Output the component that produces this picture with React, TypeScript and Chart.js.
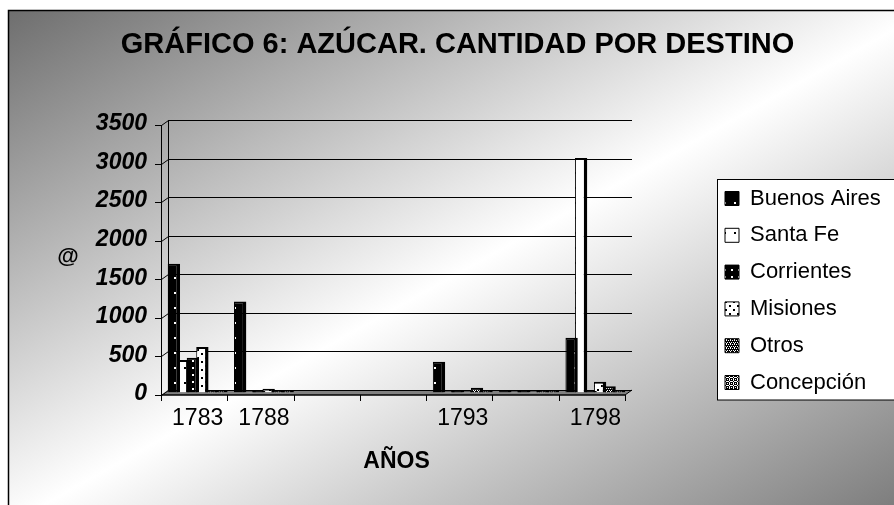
import { useEffect, useRef } from 'react';
import { Chart, registerables } from 'chart.js';

Chart.register(...registerables);

const TITLE = 'GRÁFICO 6: AZÚCAR. CANTIDAD POR DESTINO';
const X_TITLE = 'AÑOS';
const Y_TITLE = '@';
const CATEGORIES = ['1783', '1788', '', '', '1793', '', '1798'];
const SERIES_NAMES = ['Buenos Aires', 'Santa Fe', 'Corrientes', 'Misiones', 'Otros', 'Concepción'];
const BUENOS_AIRES = [1670, 1180, 0, 0, 400, 20, 710];
const SANTA_FE = [420, 20, 0, 0, 20, 20, 3040];
const CORRIENTES = [450, 20, 0, 0, 20, 20, 20];
const MISIONES = [590, 50, 0, 0, 20, 20, 140];
const OTROS = [20, 20, 0, 0, 60, 20, 80];
const CONCEPCION = [20, 20, 0, 0, 20, 20, 20];
const SERIES_VALUES = [BUENOS_AIRES, SANTA_FE, CORRIENTES, MISIONES, OTROS, CONCEPCION];
const Y_MIN = 0;
const Y_MAX = 3500;
const Y_STEP = 500;

const FONT = '"Liberation Sans", Arial, Helvetica, sans-serif';

function makePattern(w: number, h: number, bg: string, fg: string, dots: number[][]) {
  const c = document.createElement('canvas');
  c.width = w;
  c.height = h;
  const g = c.getContext('2d')!;
  g.fillStyle = bg;
  g.fillRect(0, 0, w, h);
  g.fillStyle = fg;
  for (const [x, y, s] of dots) g.fillRect(x, y, s, s);
  return g.createPattern(c, 'repeat')!;
}

function buildPatterns() {
  return [
    makePattern(10, 15, '#000', '#fff', [[4, 7, 2]]),
    makePattern(10, 15, '#fff', '#000', [[4, 7, 2]]),
    makePattern(7, 7, '#000', '#fff', [[3, 3, 2]]),
    makePattern(8, 8, '#fff', '#000', [[1, 1, 2], [5, 5, 2]]),
    makePattern(4, 4, '#000', '#fff', [[0, 0, 1], [2, 0, 1], [1, 2, 1], [3, 2, 1], [2, 3, 1]]),
    makePattern(4, 4, '#000', '#fff', [[1, 0, 1], [0, 1, 1], [2, 1, 1], [1, 2, 1], [3, 3, 1], [3, 1, 1], [1, 3, 1]]),
  ];
}

const DX = 3.5;
const DY = 2.5;

const decorPlugin = {
  id: 'decor',
  afterLayout(chart: any) {
    const lg = chart.legend;
    if (lg) {
      lg.left = 710.2;
      lg.right = 894;
      lg.width = 894 - 710.2;
      lg.top = 172.7;
      lg.bottom = 505;
      lg.height = 505 - 172.7;
    }
    const tb = chart.titleBlock;
    if (tb) {
      tb.left = 0;
      tb.right = 915;
      tb.width = 915;
    }
  },
  beforeDraw(chart: any) {
    const ctx = chart.ctx as CanvasRenderingContext2D;
    const W = chart.width;
    const H = chart.height;
    ctx.save();
    ctx.fillStyle = '#ffffff';
    ctx.fillRect(0, 0, W, H);
    ctx.save();
    ctx.translate(8, 10);
    ctx.scale(W - 8, H - 10);
    const g = ctx.createLinearGradient(0, 0, 1, 1);
    g.addColorStop(0, '#6e6e6e');
    g.addColorStop(0.52, '#ffffff');
    g.addColorStop(1, '#7e7e7e');
    ctx.fillStyle = g;
    ctx.fillRect(0, 0, 1, 1);
    ctx.restore();
    ctx.strokeStyle = '#000';
    ctx.lineWidth = 1.5;
    ctx.beginPath();
    ctx.moveTo(8.5, H);
    ctx.lineTo(8.5, 10.5);
    ctx.lineTo(W, 10.5);
    ctx.stroke();
    // legend box
    ctx.fillStyle = '#ffffff';
    ctx.fillRect(717.5, 179.5, W, 220.5);
    ctx.lineWidth = 1;
    ctx.strokeRect(717.5, 179.5, W, 220.5);
    // y-axis title (unrotated)
    ctx.fillStyle = '#000';
    ctx.font = `bold 22px ${FONT}`;
    ctx.textAlign = 'center';
    ctx.textBaseline = 'middle';
    ctx.fillText(Y_TITLE, 68, 257);
    ctx.restore();
  },
  beforeDatasetsDraw(chart: any) {
    const ctx = chart.ctx as CanvasRenderingContext2D;
    const a = chart.chartArea;
    const x = chart.scales.x;
    const y = chart.scales.y;
    const backL = a.left + DX;
    const backR = a.right + DX;
    const frontL = a.left - DX;
    const frontR = a.right - DX;
    const y0 = y.getPixelForValue(Y_MIN);
    const yTop = y.getPixelForValue(Y_MAX);
    const r = (v: number) => Math.round(v) + 0.5;
    const line = (x1: number, y1: number, x2: number, y2: number) => {
      ctx.beginPath();
      ctx.moveTo(x1, y1);
      ctx.lineTo(x2, y2);
      ctx.stroke();
    };
    ctx.save();
    // floor
    ctx.fillStyle = '#808080';
    ctx.beginPath();
    ctx.moveTo(frontL, y0 + DY);
    ctx.lineTo(frontR, y0 + DY);
    ctx.lineTo(backR, y0 - DY);
    ctx.lineTo(backL, y0 - DY);
    ctx.closePath();
    ctx.fill();
    ctx.strokeStyle = '#000';
    ctx.lineWidth = 1;
    // back wall gridlines + side wall + front ticks
    y.ticks.forEach((t: any) => {
      const py = y.getPixelForValue(t.value) - DY;
      if (t.value !== Y_MIN) line(r(backL), r(py), backR, r(py));
      const fy = py + 2 * DY;
      line(frontL - 6, r(fy), r(frontL), r(fy));
      line(r(frontL), r(fy), r(backL), r(py));
    });
    // back-left wall edge
    line(r(backL), yTop - DY, r(backL), y0 - DY);
    // front vertical axis
    line(r(frontL), yTop + DY, r(frontL), y0 + DY);
    // floor back edge
    line(backL, r(y0 - DY), backR, r(y0 - DY));
    // floor right diagonal
    line(frontR, y0 + DY, backR, y0 - DY);
    // floor front edge
    ctx.lineWidth = 1.5;
    line(frontL, y0 + DY, frontR, y0 + DY);
    // category ticks
    ctx.lineWidth = 1;
    const n = CATEGORIES.length;
    const slot = x.getPixelForValue(1) - x.getPixelForValue(0);
    const start = x.getPixelForValue(0) - slot / 2;
    for (let i = 0; i <= n; i++) {
      const bx = r(start + i * slot - DX);
      line(bx, y0 + DY, bx, y0 + DY + 6);
    }
    ctx.restore();
  },
};

export default function App() {
  const ref = useRef<HTMLCanvasElement>(null);

  useEffect(() => {
    const canvas = ref.current!;
    const patterns = buildPatterns();
    const chart = new Chart(canvas, {
      type: 'bar',
      data: {
        labels: CATEGORIES,
        datasets: SERIES_NAMES.map((name, i) => ({
          label: name,
          data: SERIES_VALUES[i],
          backgroundColor: patterns[i] as any,
          borderColor: '#000',
          borderWidth: { left: 1, right: 3.5, top: 2, bottom: 0 } as any,
          categoryPercentage: 0.86,
          barPercentage: 1.3,
        })),
      },
      options: {
        responsive: false,
        animation: false,
        devicePixelRatio: 1,
        events: [],
        layout: { padding: { left: 0, right: 265.5, top: 0, bottom: 0 } },
        plugins: {
          tooltip: { enabled: false },
          title: {
            display: true,
            text: TITLE,
            color: '#000',
            font: { family: FONT, size: 29, weight: 'bold' },
            padding: { top: 27.6, bottom: 60.1 },
          },
          legend: {
            display: true,
            position: 'chartArea' as any,
            align: 'start',
            labels: {
              boxWidth: 14,
              boxHeight: 14,
              padding: 14.8,
              color: '#000',
              font: { family: FONT, size: 22 },
              generateLabels: (c: any) => {
                const items = (Chart.defaults.plugins.legend.labels as any).generateLabels(c);
                items.forEach((it: any) => {
                  it.lineWidth = 1;
                  it.strokeStyle = '#000';
                });
                return items;
              },
            },
          },
        },
        scales: {
          x: {
            type: 'category',
            offset: true,
            grid: { display: false, drawTicks: false },
            border: { display: false },
            ticks: {
              color: '#000',
              font: { family: FONT, size: 23 },
              padding: 12.7,
              autoSkip: false,
              maxRotation: 0,
            },
            title: {
              display: true,
              text: X_TITLE,
              color: '#000',
              font: { family: FONT, size: 23, weight: 'bold' },
              padding: { top: 0, bottom: 29.2 },
            },
            afterFit: (s: any) => {
              s.height = 112.5;
            },
          },
          y: {
            min: Y_MIN,
            max: Y_MAX,
            grid: { display: false, drawTicks: false },
            border: { display: false },
            ticks: {
              stepSize: Y_STEP,
              color: '#000',
              font: { family: FONT, size: 23, weight: 'bold', style: 'italic' },
              padding: 17.5,
              labelOffset: 1.5,
              callback: (v: any) => String(v),
            },
            afterFit: (s: any) => {
              s.width = 164.5;
            },
          },
        },
      },
      plugins: [decorPlugin],
    });
    return () => chart.destroy();
  }, []);

  return (
    <div style={{ position: 'fixed', left: 0, top: 0, width: 894, height: 505 }}>
      <canvas ref={ref} width={894} height={505} style={{ display: 'block', width: 894, height: 505 }} />
    </div>
  );
}
